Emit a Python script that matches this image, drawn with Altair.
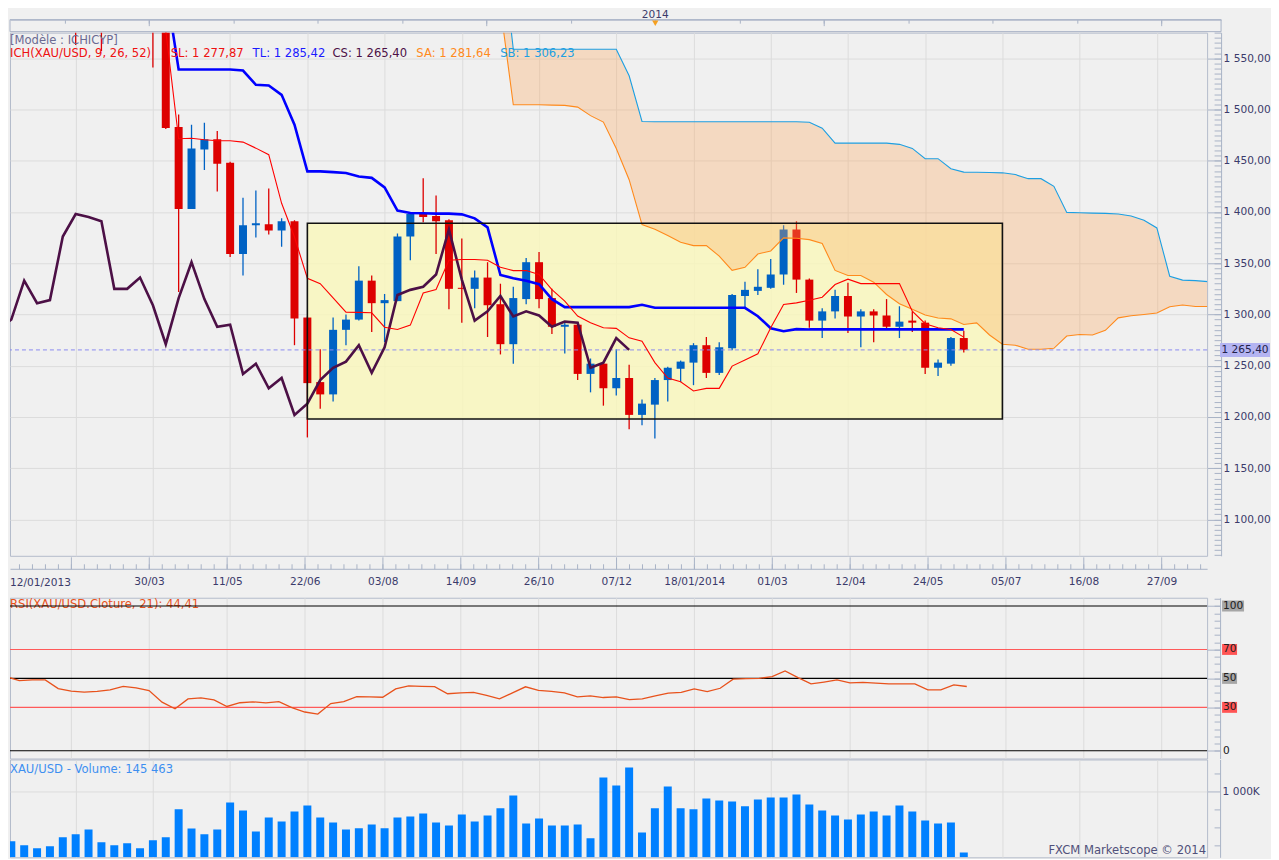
import altair as alt
import pandas as pd

# ---------------- data (week index 0 = week of 30/03/2013) ----------------
WEEKS = list(range(-11, 64))
OPEN = [1662, 1687, 1657, 1667, 1667, 1609, 1578, 1582, 1580, 1592, 1608,
        1596, 1581, 1483, 1403, 1461, 1471, 1448, 1359, 1387, 1388,
        1382, 1391, 1297, 1234, 1222, 1285, 1295, 1333, 1311, 1313,
        1376, 1398, 1396, 1392, 1326, 1325, 1336, 1310, 1271, 1315,
        1351, 1316, 1288, 1290, 1242, 1252, 1228, 1238, 1202, 1212,
        1236, 1247, 1253, 1270, 1243, 1267, 1318, 1323, 1326, 1339,
        1383, 1334, 1294, 1303, 1318, 1298, 1303, 1299, 1288, 1294,
        1292, 1248, 1252, 1277]
HIGH = [1694, 1693, 1677, 1684, 1674, 1619, 1616, 1600, 1597, 1616, 1615,
        1615, 1587, 1495, 1485, 1487, 1479, 1449, 1414, 1421, 1423,
        1394, 1392, 1298, 1266, 1297, 1300, 1347, 1338, 1320, 1379,
        1400, 1433, 1416, 1393, 1374, 1343, 1351, 1330, 1327, 1355,
        1361, 1325, 1293, 1291, 1257, 1253, 1266, 1251, 1217, 1238,
        1249, 1255, 1272, 1278, 1273, 1320, 1332, 1344, 1354, 1387,
        1391, 1335, 1306, 1324, 1331, 1305, 1305, 1315, 1308, 1303,
        1294, 1256, 1278, 1284]
LOW = [1652, 1655, 1651, 1660, 1596, 1563, 1577, 1557, 1578, 1590, 1586,
       1541, 1481, 1322, 1403, 1441, 1420, 1356, 1338, 1375, 1378,
       1366, 1270, 1180, 1208, 1215, 1270, 1294, 1283, 1273, 1313,
       1353, 1390, 1359, 1305, 1292, 1306, 1278, 1261, 1252, 1310,
       1306, 1281, 1262, 1236, 1224, 1211, 1221, 1188, 1192, 1179,
       1215, 1234, 1231, 1238, 1241, 1265, 1306, 1319, 1325, 1329,
       1321, 1287, 1277, 1296, 1282, 1268, 1273, 1286, 1277, 1283,
       1242, 1240, 1250, 1263]
CLOSE = [1687, 1657, 1667, 1666, 1609, 1578, 1582, 1580, 1592, 1608, 1596,
         1581, 1482, 1403, 1462, 1471, 1447, 1359, 1387, 1389, 1382,
         1391, 1296, 1233, 1222, 1285, 1295, 1333, 1311, 1314, 1376,
         1398, 1395, 1391, 1325, 1325, 1336, 1309, 1271, 1316, 1351,
         1315, 1288, 1290, 1242, 1252, 1228, 1238, 1202, 1213, 1236,
         1248, 1254, 1270, 1243, 1268, 1319, 1324, 1327, 1339, 1383,
         1334, 1294, 1303, 1318, 1298, 1303, 1299, 1288, 1293, 1292,
         1248, 1253, 1277, 1265.4]

SL_WEEKS = list(range(0, 64))
SL = [1600, 1577, 1471.5, 1472, 1470.5, 1469.5, 1469.5, 1468.2, 1462.3, 1455.9,
      1408.5, 1375.6, 1335.3, 1330, 1316.2, 1302.2, 1302, 1301.6, 1287.6, 1285.4,
      1289.6, 1321, 1324.3, 1352.9, 1353.6, 1353.6, 1352.9, 1346, 1342.8, 1342.8,
      1339, 1324.3, 1313, 1298.4, 1292, 1287, 1286.4, 1277.2, 1274, 1253,
      1238, 1234.4, 1225.3, 1227.9, 1227.9, 1249.6, 1255.5, 1261.6, 1287, 1309.7,
      1311.3, 1313.9, 1316.8, 1329.2, 1334.4, 1330.1, 1330.1, 1330.1, 1330.1, 1303.2,
      1291, 1287, 1285.4, 1277.9]

TL_WEEKS = list(range(1, 64))
TL = [1620, 1539, 1539, 1539, 1539, 1539, 1538, 1524.1, 1523.4, 1514.3, 1485.1,
      1439.6, 1439.6, 1438.9, 1438.1, 1434.7, 1433.3, 1424, 1401.3, 1399, 1398.7,
      1398.4, 1398.4, 1397.7, 1393.8, 1385, 1338.5, 1335.4, 1333, 1329.5, 1314.9,
      1307.2, 1307.2, 1307.2, 1307.2, 1307.2, 1307.2, 1309.5, 1306.5, 1306.5, 1306.5,
      1306.5, 1306.5, 1306.5, 1306.5, 1306.5, 1298.3, 1286.6, 1283.7, 1285.7, 1285.4,
      1285.4, 1285.4, 1285.4, 1285.4, 1285.4, 1285.4, 1285.4, 1285.4, 1285.4, 1285.4,
      1285.4, 1285.4]

CLOUD_WEEKS = list(range(27, 83))
SA = [1600, 1504.6, 1504.6, 1504.6, 1504.3, 1504, 1502.3, 1494, 1487.7, 1462,
      1431.5, 1387.7, 1383.2, 1377, 1370.4, 1367.2, 1367.2, 1357, 1343, 1346,
      1359, 1362, 1374.7, 1374.4, 1373, 1369.2, 1343, 1338, 1338, 1331.5,
      1319.5, 1310.5, 1305, 1299.5, 1296.6, 1295.7, 1290.2, 1291.8, 1280, 1271,
      1270, 1266, 1266, 1267, 1279, 1280.5, 1280, 1284.5, 1296.7, 1298.8,
      1300, 1301.4, 1307.5, 1309.3, 1307.8, 1307.8]
SB = [1670, 1558.8, 1558.8, 1558.8, 1558.8, 1558.8, 1558.8, 1558.8, 1558.8, 1558.8,
      1532.9, 1488.3, 1488, 1488, 1488, 1488, 1488, 1488, 1488, 1488,
      1488, 1488, 1488, 1488, 1487.6, 1481.8, 1467.2, 1467.2, 1467.2, 1467.2,
      1467.2, 1466, 1462, 1452, 1452, 1442.2, 1438.9, 1438.7, 1438.5, 1438.2,
      1436.5, 1432.5, 1432.5, 1425, 1399.6, 1399.2, 1398.9, 1398.6, 1398.1, 1396,
      1392, 1384.4, 1337.3, 1333.5, 1333, 1332]

RSI_WEEKS = list(range(-12, 64))
RSI = [50.5, 51.2, 48.5, 49, 49, 43, 41.2, 40.5, 41, 42.1, 44.5, 43.4,
       41.6, 33.6, 29, 35.8, 36.6, 35.2, 30.6, 33.2, 33.8, 33.1,
       34, 29.8, 26.8, 25.4, 32.6, 34, 37.4, 37.2, 37, 42.8,
       44.8, 44.5, 44.3, 39.4, 40, 40.4, 38.2, 35.9, 40, 44.2,
       41.8, 41, 40, 37.2, 37.9, 36.8, 37.3, 35.3, 35.9, 37.9,
       39.8, 40.4, 42.8, 40.9, 43.2, 49.5, 49.8, 50, 51.3, 55.2,
       50.5, 46.2, 47.5, 49, 46.9, 47.3, 46.8, 46.2, 46.2, 46.2,
       42.1, 42.1, 45.5, 44.4]

VOL_WEEKS = list(range(-11, 64))
VOLUME_K = [302, 246, 204, 232, 358, 400, 469, 288, 246, 274, 204,
            316, 358, 749, 480, 400, 469, 846, 735, 441, 637,
            581, 721, 804, 637, 567, 469, 484, 539, 484, 637,
            651, 693, 567, 525, 679, 581, 665, 763, 944, 553,
            623, 525, 525, 539, 344, 1196, 1084, 1335, 427, 763,
            1070, 763, 749, 902, 874, 860, 791, 888, 916, 916,
            958, 818, 735, 665, 609, 679, 721, 665, 804, 721,
            595, 553, 567, 145.463]

RSI_LEVELS = [100, 70, 50, 30, 0]
DATE_WEEKS = [0, 6, 12, 18, 24, 30, 36, 42, 48, 54, 60, 66, 72, 78]
DATE_LABELS = ["30/03", "11/05", "22/06", "03/08", "14/09", "26/10", "07/12",
               "18/01/2014", "01/03", "12/04", "24/05", "05/07", "16/08", "27/09"]
FIRST_LABEL = "12/01/2013"
GRID_WEEKS = [-6] + DATE_WEEKS
STRIP_TICKS = [-6.5, 0, 6.5, 13, 19.5, 26, 32.5, 39, 45.5, 52, 58.5, 65, 71.5, 78]
STRIP_LONG = [0, 26, 52, 78]
YEAR_MARK_WEEK = 39
YEAR_LABEL = "2014"
PRICE_TICKS = [1100, 1150, 1200, 1250, 1300, 1350, 1400, 1450, 1500, 1550]
BOX = {"k0": [12], "k1": [66], "low": [1198], "high": [1389]}

MODEL_TEXT = "[Modèle : ICHICYP]"
LEGEND = ["ICH(XAU/USD, 9, 26, 52)", "SL: 1 277,87", "TL: 1 285,42",
          "CS: 1 265,40", "SA: 1 281,64", "SB: 1 306,23"]
RSI_TITLE = "RSI(XAU/USD.Cloture, 21): 44,41"
VOL_TITLE = "XAU/USD - Volume: 145 463"
FOOTER = "FXCM Marketscope © 2014"

# ---------------- layout / style ----------------
W = 1199
PPW = 13.0
XMIN = -10.715
XMAX = XMIN + W / PPW
TOP_W = 1213
MAIN_H, DATE_H, RSI_H, VOL_H, TOP_H = 524, 40, 161, 98, 22
FONT = "DejaVu Sans"
AXC = "#a9b3c6"
GRID = "#dcdcdc"
LABC = "#3b3b6b"
BG = "#f0f0f0"
LFS = 10.6

XS = alt.Scale(domain=[XMIN, XMAX], nice=False, zero=False)
XT = alt.Scale(domain=[XMIN, XMIN + TOP_W / PPW], nice=False, zero=False)
YP = alt.Scale(domain=[1064.5, 1575.0], nice=False, zero=False)
YR = alt.Scale(domain=[-5.31, 105.72], nice=False, zero=False)
VOL_FLOOR = 78.2
YV = alt.Scale(domain=[VOL_FLOOR, 1446.9], nice=False, zero=False)
YD = alt.Scale(domain=[0, 1], nice=False, zero=False)

FR_EXPR = "replace(replace(format(datum.value, ',.2f'), ',', ' '), '.', ',')"


def fr(v):
    return f"{v:,.2f}".replace(",", " ").replace(".", ",")


def xq(field="k", scale=XS):
    return alt.X(f"{field}:Q", scale=scale, axis=None)


def ax(**kw):
    return alt.Axis(title=None, **kw)


dummy = pd.DataFrame({"k": [0.0], "p": [1300.0], "r": [50.0], "v": [500.0], "d": [0.5]})
one = alt.Chart(dummy)
YDUM = alt.Y("d:Q", scale=YD, axis=None)


def label(text, px, py, color, size=11.6, align="left"):
    return one.mark_text(align=align, baseline="middle", font=FONT, fontSize=size,
                         color=color).encode(x=alt.value(px), y=alt.value(py),
                                             text=alt.value(text))


# ---------------- top time strip ----------------
year_df = pd.DataFrame({"k": [YEAR_MARK_WEEK]})
top = alt.layer(
    one.mark_rect(fillOpacity=0, stroke=AXC, strokeWidth=1).encode(
        x=alt.value(0), x2=alt.value(TOP_W), y=alt.value(10), y2=alt.value(22)),
    one.mark_point(opacity=0).encode(
        x=alt.X("k:Q", scale=XT, axis=ax(orient="bottom", offset=-12, values=STRIP_TICKS,
                                         tickSize=3.5, tickColor=AXC, labels=False,
                                         grid=False, domain=True, domainColor=AXC)),
        y=YDUM),
    one.mark_point(opacity=0).encode(
        x=alt.X("k:Q", scale=XT, axis=ax(orient="bottom", offset=-12, values=STRIP_LONG,
                                         tickSize=6, tickColor=AXC, labels=False,
                                         grid=False, domain=False)),
        y=YDUM),
    alt.Chart(year_df).mark_text(font=FONT, fontSize=LFS, color=LABC, baseline="middle").encode(
        x=xq("k", XT), y=alt.value(5.5), text=alt.value(YEAR_LABEL)),
    alt.Chart(year_df).mark_point(shape="triangle-down", filled=True, color="#f5a020",
                                  size=40, opacity=1).encode(x=xq("k", XT), y=alt.value(13.5)),
).resolve_axis(x="independent").properties(
    width=TOP_W, height=TOP_H, view=alt.ViewBackground(stroke="transparent"))

# ---------------- main price panel ----------------
ohlc = pd.DataFrame({"k": WEEKS, "open": OPEN, "high": HIGH, "low": LOW, "close": CLOSE})
sl_df = pd.DataFrame({"k": SL_WEEKS, "v": SL})
tl_df = pd.DataFrame({"k": TL_WEEKS, "v": TL})
cloud_df = pd.DataFrame({"k": CLOUD_WEEKS, "sa": SA, "sb": SB})
box_df = pd.DataFrame(BOX)
last_df = pd.DataFrame({"p": [CLOSE[-1]], "txt": [fr(CLOSE[-1])]})


def yp(field):
    return alt.Y(f"{field}:Q", scale=YP, axis=None)


candle_color = alt.condition("datum.close >= datum.open", alt.value("#0062c4"), alt.value("#dd0000"))
price_minor = [1065 + 5 * i for i in range(103)]

main_layers = [
    one.mark_point(opacity=0).encode(
        x=alt.X("k:Q", scale=XS, axis=ax(orient="bottom", values=GRID_WEEKS, grid=True,
                                         gridColor=GRID, ticks=False, labels=False, domain=False)),
        y=alt.Y("p:Q", scale=YP, axis=ax(orient="right", values=PRICE_TICKS, grid=True,
                                         gridColor=GRID, tickSize=14, tickColor=AXC,
                                         domain=False, labelPadding=2, labelExpr=FR_EXPR))),
    alt.Chart(box_df).mark_rect(color="#faf8ba", opacity=0.8, clip=True).encode(
        x=xq("k0"), x2="k1:Q", y=yp("low"), y2="high:Q"),
    alt.Chart(ohlc).mark_rule(strokeWidth=1.3, clip=True).encode(
        x=xq(), y=yp("low"), y2="high:Q", color=candle_color),
    alt.Chart(ohlc).mark_bar(size=8, clip=True).encode(
        x=xq(), y=yp("open"), y2="close:Q", color=candle_color),
    alt.Chart(cloud_df).mark_area(color="#fbab62", opacity=0.33, clip=True).encode(
        x=xq(), y=yp("sa"), y2="sb:Q"),
    alt.Chart(cloud_df).mark_line(color="#ff8a1c", strokeWidth=1.1, clip=True).encode(x=xq(), y=yp("sa")),
    alt.Chart(cloud_df).mark_line(color="#1c9fe2", strokeWidth=1.1, clip=True).encode(x=xq(), y=yp("sb")),
    alt.Chart(last_df).mark_rule(color="#8a8af0", strokeDash=[4, 3], strokeWidth=1).encode(y=yp("p")),
    alt.Chart(ohlc).transform_calculate(kcs="datum.k - 26").mark_line(
        color="#4c1046", strokeWidth=2.6, clip=True).encode(x=xq("kcs"), y=yp("close")),
    alt.Chart(tl_df).mark_line(color="#0000ff", strokeWidth=2.6, clip=True).encode(x=xq(), y=yp("v")),
    alt.Chart(sl_df).mark_line(color="#ff0000", strokeWidth=1.1, clip=True).encode(x=xq(), y=yp("v")),
    alt.Chart(box_df).mark_rect(fillOpacity=0, stroke="#111111", strokeWidth=1.6, clip=True).encode(
        x=xq("k0"), x2="k1:Q", y=yp("low"), y2="high:Q"),
    label(MODEL_TEXT, 0, 8, "#6a6a92"),
    label(LEGEND[0], 0, 21, "#ee1111"),
    label(LEGEND[1], 161, 21, "#ee1111"),
    label(LEGEND[2], 243, 21, "#1a1aff"),
    label(LEGEND[3], 323, 21, "#4c1046"),
    label(LEGEND[4], 407, 21, "#ff8a1c"),
    label(LEGEND[5], 491, 21, "#1c9fe2"),
    alt.Chart(last_df).mark_point(shape="M-1,-0.28H1V0.28H-1Z", filled=True, color="#b4b4f2",
                                  size=50 * 50, opacity=1).encode(x=alt.value(W + 38), y=yp("p")),
    alt.Chart(last_df).mark_text(font=FONT, fontSize=LFS, color="#22224a", align="center",
                                 baseline="middle").encode(x=alt.value(W + 38), y=yp("p"), text="txt:N"),
    one.mark_point(opacity=0).encode(
        x=xq(),
        y=alt.Y("p:Q", scale=YP, axis=ax(orient="left", offset=-(W + 14), values=price_minor,
                                         tickSize=7, tickColor=AXC, labels=False, grid=False,
                                         domain=True, domainColor=AXC))),
]
main = alt.layer(*main_layers).resolve_axis(x="independent", y="independent").properties(
    width=W, height=MAIN_H)

# ---------------- date axis strip ----------------
label_expr = "[" + ",".join(f"'{s}'" for s in DATE_LABELS) + "][round(datum.value / 6)]"
date = alt.layer(
    one.mark_point(opacity=0).encode(
        x=alt.X("k:Q", scale=XS, axis=ax(orient="top", offset=-12, values=list(range(-10, 82)),
                                         tickSize=5, tickColor=AXC, labels=False, grid=False,
                                         domain=True, domainColor=AXC)),
        y=YDUM),
    one.mark_point(opacity=0).encode(
        x=alt.X("k:Q", scale=XS, axis=ax(orient="top", offset=-12, values=GRID_WEEKS,
                                         tickSize=12, tickColor=AXC, labels=False, grid=False,
                                         domain=False)),
        y=YDUM),
    one.mark_point(opacity=0).encode(
        x=alt.X("k:Q", scale=XS, axis=ax(orient="bottom", offset=-28, values=DATE_WEEKS,
                                         ticks=True, tickSize=0, labelPadding=8, grid=False,
                                         domain=False, labelExpr=label_expr)),
        y=YDUM),
    label(FIRST_LABEL, 0, 26, LABC, size=LFS),
).resolve_axis(x="independent").properties(
    width=W, height=DATE_H, view=alt.ViewBackground(stroke="transparent"))

# ---------------- RSI panel ----------------
rsi_df = pd.DataFrame({"k": RSI_WEEKS, "rsi": RSI})
lvl_df = pd.DataFrame({"lvl": RSI_LEVELS, "lab": [str(v) for v in RSI_LEVELS]})
red_lvl = "datum.lvl == 70 || datum.lvl == 30"


def yr(field):
    return alt.Y(f"{field}:Q", scale=YR, axis=None)


rsi = alt.layer(
    one.mark_point(opacity=0).encode(
        x=alt.X("k:Q", scale=XS, axis=ax(orient="bottom", values=GRID_WEEKS, grid=True,
                                         gridColor=GRID, ticks=False, labels=False, domain=False)),
        y=alt.Y("r:Q", scale=YR, axis=ax(orient="right", values=RSI_LEVELS, grid=False,
                                         tickSize=13, tickColor=AXC, labels=False, domain=False))),
    label(RSI_TITLE, 0, 7, "#e8521c"),
    alt.Chart(lvl_df).mark_rule(strokeWidth=1.1).encode(
        y=yr("lvl"), color=alt.condition(red_lvl, alt.value("#ff5a5a"), alt.value("#000000"))),
    alt.Chart(rsi_df).mark_line(color="#e8521c", strokeWidth=1.3, clip=True).encode(x=xq(), y=yr("rsi")),
    alt.Chart(lvl_df).transform_filter("datum.lvl == 100").mark_point(
        shape="M-1,-0.5H1V0.5H-1Z", filled=True, color="#a6a6a6", size=22 * 22, opacity=1).encode(
        x=alt.value(W + 26), y=yr("lvl")),
    alt.Chart(lvl_df).transform_filter("datum.lvl > 0 && datum.lvl < 100").mark_point(
        shape="M-1,-0.73H1V0.73H-1Z", filled=True, size=15 * 15, opacity=1).encode(
        x=alt.value(W + 22.5), y=yr("lvl"),
        color=alt.condition(red_lvl, alt.value("#ff5454"), alt.value("#a6a6a6"))),
    alt.Chart(lvl_df).mark_text(font=FONT, fontSize=LFS, color="#202020", align="left",
                                baseline="middle").encode(x=alt.value(W + 16), y=yr("lvl"), text="lab:N"),
    one.mark_point(opacity=0).encode(
        x=xq(),
        y=alt.Y("r:Q", scale=YR, axis=ax(orient="left", offset=-(W + 13),
                                         values=list(range(0, 106, 5)), tickSize=6,
                                         tickColor=AXC, labels=False, grid=False,
                                         domain=True, domainColor=AXC))),
).resolve_axis(x="independent", y="independent").properties(width=W, height=RSI_H)

# ---------------- volume panel ----------------
vol_df = pd.DataFrame({"k": VOL_WEEKS, "vol": VOLUME_K})
vol_df["base"] = VOL_FLOOR
vol = alt.layer(
    one.mark_point(opacity=0).encode(
        x=alt.X("k:Q", scale=XS, axis=ax(orient="bottom", values=GRID_WEEKS, grid=True,
                                         gridColor=GRID, ticks=False, labels=False, domain=False)),
        y=alt.Y("v:Q", scale=YV, axis=ax(orient="right", values=[1000], grid=True, gridColor=GRID,
                                         tickSize=13, tickColor=AXC, domain=False, labelPadding=2,
                                         labelExpr="replace(format(datum.value, ','), ',', ' ') + 'K'"))),
    alt.Chart(vol_df).mark_bar(size=8, color="#0080ff", clip=True).encode(
        x=xq(), y=alt.Y("vol:Q", scale=YV, axis=None), y2="base:Q"),
    label(VOL_TITLE, 0, 11, "#3d8ff0"),
    label(FOOTER, W - 1, 92, "#50507a", align="right"),
    one.mark_point(opacity=0).encode(
        x=xq(),
        y=alt.Y("v:Q", scale=YV, axis=ax(orient="left", offset=-(W + 13),
                                         values=[250, 500, 750, 1250], tickSize=6,
                                         tickColor=AXC, labels=False, grid=False,
                                         domain=True, domainColor=AXC))),
).resolve_axis(x="independent", y="independent").properties(width=W, height=VOL_H)

chart = alt.vconcat(top, main, date, rsi, vol, spacing=1, bounds="flush").properties(
    padding=0, background=BG
).configure_axis(
    labelFont=FONT, labelFontSize=LFS, labelColor=LABC
).configure_view(stroke="#b4bccb", strokeWidth=1)

chart.save("out.html", embed_options={"renderer": "svg", "actions": False})
